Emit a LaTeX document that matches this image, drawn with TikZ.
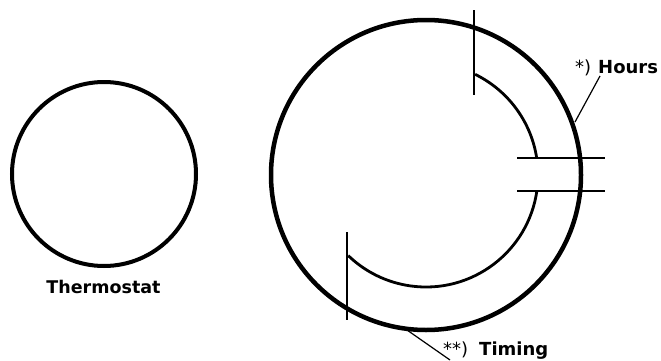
\documentclass[tikz,border=0pt]{standalone}
\usepackage{fontspec}
\setmainfont{DejaVu Sans}
\begin{document}
\begin{tikzpicture}[x=1pt,y=1pt,
  thick ring/.style={line width=4.5pt},
  thin ring/.style={line width=2.8pt},
  leader/.style={line width=1.2pt},
  lbl/.style={inner sep=0pt, font=\fontsize{17.5}{20}\selectfont\bfseries},
  note/.style={inner sep=0pt, font=\fontsize{18}{20}\selectfont\bfseries}]
\useasboundingbox (0,0) rectangle (661,360);
% thermostat
\draw[line width=4pt] (104,186) circle[radius=92];
\node[lbl, anchor=base] (thermo) at (103.5,67) {Thermostat};
% big dial
\coordinate (c) at (426,185);
\draw[thick ring] (c) circle[radius=155];
\draw[thin ring] (c) ++(64:112) arc[start angle=64, end angle=9, radius=112];
\draw[thin ring] (c) ++(-8:112) arc[start angle=-8, end angle=-134, radius=112];
\draw[thin ring] (474,350) -- (474,265);
\draw[thin ring] (347,128) -- (347,40);
\draw[thin ring] (517,202) -- (605,202);
\draw[thin ring] (517,169) -- (605,169);
% labels
\node[note, anchor=base west] (hours) at (575,287) {\mdseries*)\hspace{7pt}\bfseries Hours};
\node[note, anchor=base west] (timing) at (443,5) {\mdseries**)\hspace{11pt}\bfseries Timing};
\coordinate (h1) at (575,238);
\coordinate (h2) at (600,284);
\coordinate (t1) at (407,30);
\coordinate (t2) at (450,0);
\draw[leader] (h1) -- (h2);
\draw[leader] (t1) -- (t2);
\end{tikzpicture}
\end{document}
